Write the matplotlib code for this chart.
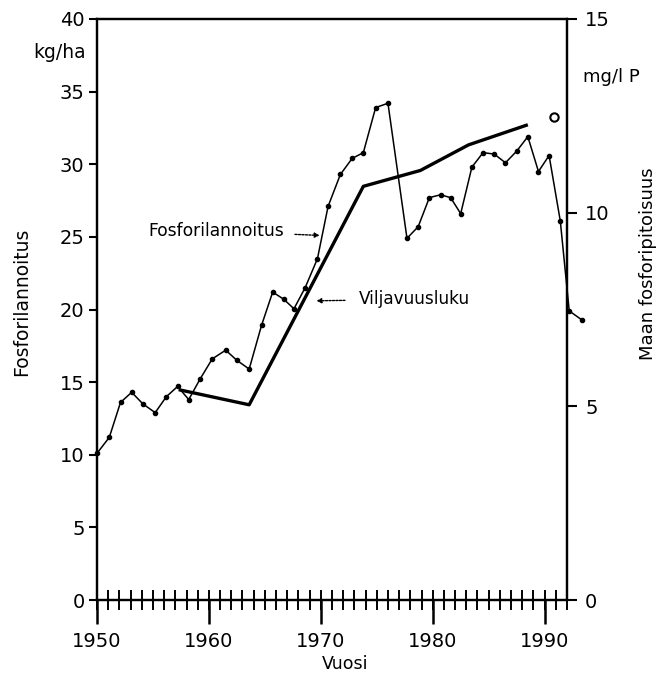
import matplotlib
matplotlib.use("Agg")
import matplotlib.pyplot as plt

plt.rcParams['font.family'] = ['DejaVu Sans']

# Fosforilannoitus, kg/ha (left axis)
fert_year = [1950.0, 1951.1, 1952.1, 1953.1, 1954.1, 1955.2, 1956.2, 1957.2, 1958.2,
             1959.2, 1960.3, 1961.5, 1962.5, 1963.6, 1964.7, 1965.7, 1966.7, 1967.6,
             1968.6, 1969.7, 1970.65, 1971.75, 1972.8, 1973.8, 1974.9, 1976.0, 1977.7,
             1978.7, 1979.7, 1980.7, 1981.6, 1982.5, 1983.5, 1984.5, 1985.5, 1986.5,
             1987.5, 1988.5, 1989.45, 1990.4, 1991.4, 1992.2, 1993.3]
fert = [10.1, 11.2, 13.6, 14.3, 13.5, 12.9, 14.0, 14.7, 13.8,
        15.2, 16.6, 17.2, 16.5, 15.9, 18.9, 21.2, 20.7, 20.05,
        21.5, 23.5, 27.1, 29.3, 30.4, 30.8, 33.9, 34.2, 24.9,
        25.7, 27.7, 27.9, 27.7, 26.6, 29.8, 30.8, 30.7, 30.1,
        30.9, 31.9, 29.5, 30.6, 26.1, 19.9, 19.3]

# Viljavuusluku, mg/l P (right axis)
vilj_year = [1957.3, 1963.6, 1973.8, 1978.9, 1983.2, 1988.5]
vilj = [5.43, 5.04, 10.68, 11.09, 11.75, 12.27]

# single open circle
extra_year = [1990.8]
extra = [12.47]

W, H = 656, 677
fig = plt.figure(figsize=(W / 100, H / 100), dpi=100)
ax = fig.add_axes([97 / W, 1 - 600 / H, 470 / W, 581 / H])
ax2 = ax.twinx()

ax.plot(fert_year, fert, color='black', lw=1.1, marker='o', ms=3.0, clip_on=False, zorder=3)
ax2.plot(vilj_year, vilj, color='black', lw=2.4, solid_capstyle='butt', zorder=3)
ax2.plot(extra_year, extra, ls='none', marker='o', ms=6, mfc='white', mec='black', mew=1.5)

ax.set_xlim(1950, 1992)
ax.set_ylim(0, 40)
ax2.set_ylim(0, 15)

ax.set_yticks(range(0, 41, 5))
ax2.set_yticks([0, 5, 10, 15])
ax.set_xticks(range(1950, 1991, 10))
ax.set_xticks(range(1950, 1993), minor=True)
ax.xaxis.remove_overlapping_locs = False

for a in (ax, ax2):
    for s in a.spines.values():
        s.set_linewidth(1.6)

ax.tick_params(axis='y', direction='out', length=6, width=1.5, labelsize=14, pad=3)
ax2.tick_params(axis='y', direction='out', length=7, width=1.5, labelsize=14, pad=6)
ax.tick_params(axis='x', which='major', direction='out', length=17, width=1.8,
               labelsize=14, pad=6)
ax.tick_params(axis='x', which='minor', direction='inout', length=14, width=1.4)

fig.text(22 / W, 1 - 302 / H, 'Fosforilannoitus', rotation=90, ha='center', va='center',
         fontsize=13.5)
fig.text(648 / W, 1 - 264 / H, 'Maan fosforipitoisuus', rotation=90, ha='center',
         va='center', fontsize=13)
fig.text(345 / W, 1 - 664 / H, 'Vuosi', ha='center', va='center', fontsize=12.5)
fig.text(33 / W, 1 - 53 / H, 'kg/ha', ha='left', va='center', fontsize=13.5)
fig.text(583 / W, 1 - 77 / H, 'mg/l P', ha='left', va='center', fontsize=13)

ax.annotate('Fosforilannoitus', xy=(1969.9, 25.1), xytext=(1966.7, 25.4),
            ha='right', va='center', fontsize=12.3,
            arrowprops=dict(arrowstyle='-|>', ls=(0, (1.5, 1)), lw=1, color='black',
                            mutation_scale=7, shrinkA=6, shrinkB=0))
ax.annotate('Viljavuusluku', xy=(1969.6, 20.6), xytext=(1973.4, 20.7),
            ha='left', va='center', fontsize=12.2,
            arrowprops=dict(arrowstyle='-|>', ls=(0, (1.5, 1)), lw=1, color='black',
                            mutation_scale=7, shrinkA=8, shrinkB=0))

fig.savefig('out.png', dpi=100)
